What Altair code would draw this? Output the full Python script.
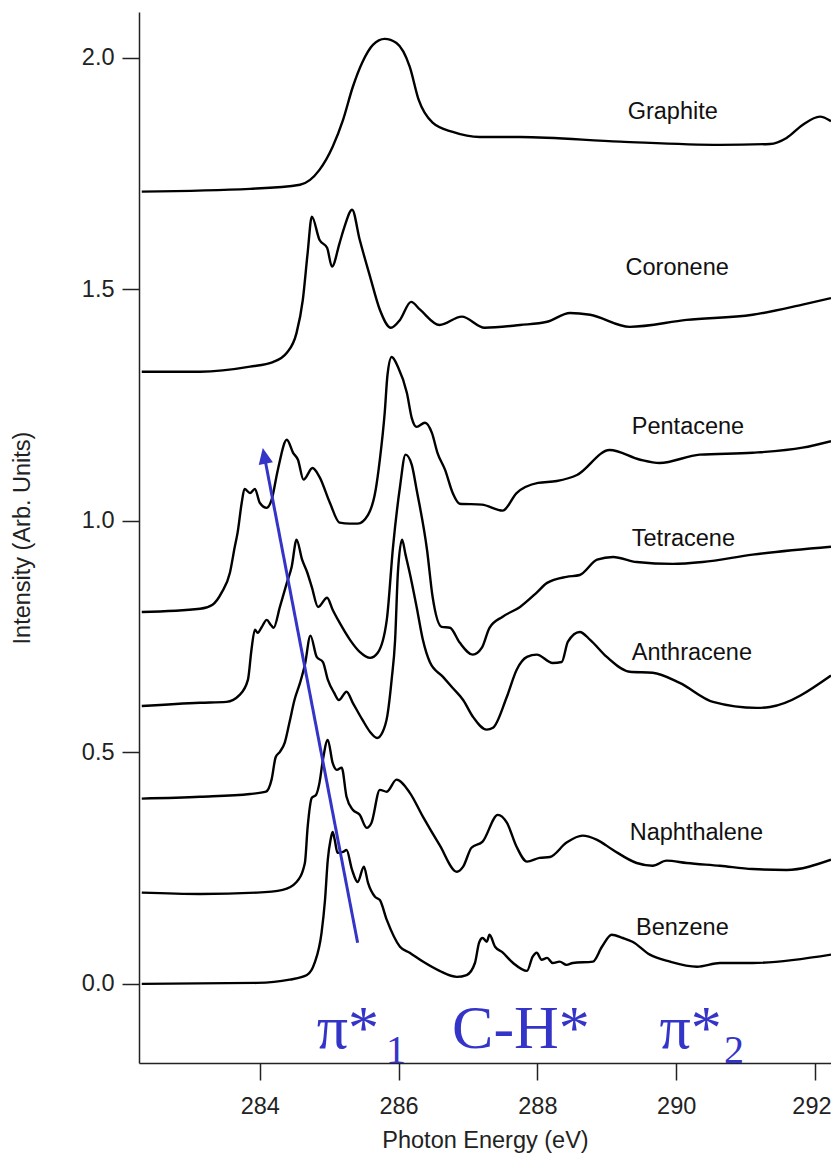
import altair as alt
import pandas as pd

# ---------------- data ----------------
graphite_x = [282.30, 283.86, 284.58, 284.86, 285.05, 285.20, 285.34, 285.48, 285.63, 285.80, 285.97, 286.16,
              286.29, 286.49, 286.78, 287.17, 287.75, 289.19, 290.63, 291.35, 291.59, 291.82, 292.07, 292.23]
graphite_y = [1.711, 1.717, 1.726, 1.758, 1.808, 1.866, 1.937, 1.991, 2.028, 2.041, 2.032, 1.981,
              1.909, 1.860, 1.840, 1.829, 1.829, 1.819, 1.812, 1.814, 1.827, 1.855, 1.873, 1.863]

coronene_x = [282.30, 283.14, 283.86, 284.19, 284.39, 284.53, 284.62, 284.69, 284.75, 284.86, 284.97, 285.04,
              285.15, 285.22, 285.33, 285.44, 285.59, 285.73, 285.89, 286.02, 286.18, 286.31, 286.59, 286.91,
              287.24, 287.75, 288.14, 288.47, 288.76, 289.33, 290.15, 291.10, 291.82, 292.23]
coronene_y = [1.322, 1.322, 1.333, 1.343, 1.363, 1.406, 1.477, 1.579, 1.657, 1.607, 1.590, 1.549,
              1.600, 1.635, 1.672, 1.607, 1.527, 1.456, 1.417, 1.434, 1.473, 1.456, 1.423, 1.441,
              1.417, 1.423, 1.430, 1.449, 1.445, 1.419, 1.434, 1.445, 1.467, 1.481]

pentacene_x = [282.30, 283.14, 283.32, 283.45, 283.57, 283.64, 283.68, 283.74, 283.78, 283.86, 283.93, 284.00,
               284.10, 284.17, 284.26, 284.39, 284.48, 284.55, 284.63, 284.76, 284.86, 285.01, 285.15, 285.30,
               285.41, 285.56, 285.67, 285.73, 285.80, 285.84, 285.90, 285.99, 286.12, 286.19, 286.26, 286.38,
               286.48, 286.56, 286.67, 286.78, 286.88, 287.20, 287.50, 287.70, 288.01, 288.28, 288.57, 289.04,
               289.48, 289.76, 290.34, 291.10, 291.82, 292.23]
pentacene_y = [0.803, 0.810, 0.819, 0.845, 0.888, 0.944, 0.974, 1.039, 1.069, 1.060, 1.069, 1.039,
               1.028, 1.045, 1.110, 1.175, 1.147, 1.132, 1.089, 1.114, 1.095, 1.039, 0.996, 0.994,
               0.994, 1.013, 1.067, 1.132, 1.233, 1.315, 1.354, 1.333, 1.276, 1.222, 1.203, 1.212,
               1.190, 1.147, 1.110, 1.060, 1.037, 1.035, 1.022, 1.060, 1.082, 1.086, 1.099, 1.153,
               1.132, 1.125, 1.143, 1.147, 1.158, 1.172]

tetracene_x = [282.30, 283.14, 283.52, 283.71, 283.83, 283.88, 283.93, 283.97, 284.03, 284.10, 284.16, 284.20,
               284.29, 284.39, 284.46, 284.53, 284.61, 284.68, 284.75, 284.84, 284.97, 285.05, 285.15, 285.30,
               285.44, 285.59, 285.70, 285.83, 285.92, 286.02, 286.10, 286.19, 286.26, 286.41, 286.49, 286.62,
               286.74, 286.88, 287.07, 287.20, 287.31, 287.50, 287.75, 287.99, 288.14, 288.42, 288.61, 288.86,
               289.09, 289.43, 289.95, 290.38, 291.10, 292.23]
tetracene_y = [0.600, 0.607, 0.609, 0.624, 0.657, 0.721, 0.765, 0.758, 0.771, 0.786, 0.775, 0.769,
               0.814, 0.866, 0.901, 0.959, 0.916, 0.890, 0.857, 0.814, 0.834, 0.808, 0.780, 0.743,
               0.717, 0.704, 0.715, 0.786, 0.944, 1.073, 1.143, 1.121, 1.067, 0.937, 0.836, 0.771,
               0.769, 0.737, 0.711, 0.726, 0.769, 0.793, 0.814, 0.845, 0.866, 0.879, 0.883, 0.916,
               0.922, 0.911, 0.907, 0.911, 0.927, 0.944]

anthracene_x = [282.30, 283.14, 283.86, 284.09, 284.17, 284.23, 284.29, 284.36, 284.43, 284.50, 284.58, 284.65,
                284.73, 284.82, 284.91, 284.98, 285.07, 285.14, 285.25, 285.34, 285.48, 285.59, 285.69, 285.77,
                285.84, 285.90, 285.95, 285.99, 286.05, 286.10, 286.16, 286.26, 286.35, 286.45, 286.64, 286.78,
                286.93, 287.07, 287.27, 287.36, 287.56, 287.70, 287.85, 287.99, 288.22, 288.35, 288.44, 288.61,
                288.76, 289.00, 289.33, 289.66, 290.05, 290.53, 291.16, 291.35, 292.23]
anthracene_y = [0.400, 0.404, 0.410, 0.415, 0.441, 0.490, 0.501, 0.521, 0.566, 0.613, 0.650, 0.689,
                0.752, 0.706, 0.695, 0.657, 0.629, 0.613, 0.631, 0.607, 0.570, 0.544, 0.531, 0.544,
                0.581, 0.657, 0.743, 0.888, 0.959, 0.927, 0.888, 0.814, 0.743, 0.695, 0.663, 0.639,
                0.613, 0.577, 0.549, 0.553, 0.620, 0.678, 0.706, 0.711, 0.693, 0.695, 0.739, 0.760,
                0.743, 0.706, 0.674, 0.672, 0.650, 0.609, 0.596, 0.598, 0.666]

naphthalene_x = [282.30, 283.14, 283.96, 284.33, 284.53, 284.65, 284.69, 284.75, 284.81, 284.86, 284.91, 284.98,
                 285.05, 285.11, 285.18, 285.25, 285.34, 285.44, 285.54, 285.61, 285.73, 285.83, 285.97, 286.16,
                 286.35, 286.59, 286.84, 286.93, 287.05, 287.21, 287.43, 287.56, 287.70, 287.85, 288.03, 288.18,
                 288.42, 288.65, 288.86, 289.09, 289.43, 289.66, 289.86, 290.15, 290.63, 291.10, 291.59, 292.23]
naphthalene_y = [0.197, 0.194, 0.197, 0.203, 0.220, 0.261, 0.339, 0.402, 0.408, 0.434, 0.484, 0.527,
                 0.477, 0.462, 0.467, 0.404, 0.376, 0.365, 0.337, 0.348, 0.419, 0.415, 0.441, 0.413,
                 0.361, 0.300, 0.242, 0.253, 0.294, 0.307, 0.365, 0.348, 0.296, 0.264, 0.272, 0.274,
                 0.305, 0.320, 0.311, 0.289, 0.261, 0.255, 0.266, 0.261, 0.255, 0.248, 0.246, 0.268]

benzene_x = [282.30, 283.96, 284.43, 284.68, 284.79, 284.89, 284.94, 284.98, 285.02, 285.05, 285.08, 285.12,
             285.20, 285.25, 285.33, 285.41, 285.50, 285.56, 285.66, 285.73, 285.83, 286.02, 286.16, 286.35,
             286.59, 286.84, 286.98, 287.10, 287.16, 287.21, 287.27, 287.31, 287.39, 287.49, 287.65, 287.85,
             287.93, 287.99, 288.06, 288.14, 288.22, 288.32, 288.42, 288.51, 288.80, 288.93, 289.07, 289.23,
             289.37, 289.62, 289.91, 290.30, 290.63, 291.10, 292.23]
benzene_y = [0.000, 0.002, 0.009, 0.019, 0.045, 0.110, 0.181, 0.268, 0.311, 0.328, 0.311, 0.283,
             0.285, 0.289, 0.246, 0.220, 0.253, 0.218, 0.188, 0.181, 0.138, 0.080, 0.067, 0.048,
             0.028, 0.015, 0.019, 0.045, 0.089, 0.099, 0.091, 0.106, 0.080, 0.069, 0.045, 0.028,
             0.058, 0.067, 0.052, 0.056, 0.045, 0.048, 0.041, 0.045, 0.048, 0.080, 0.106, 0.099,
             0.091, 0.063, 0.048, 0.037, 0.045, 0.045, 0.063]

series = {
    "Graphite": (graphite_x, graphite_y),
    "Coronene": (coronene_x, coronene_y),
    "Pentacene": (pentacene_x, pentacene_y),
    "Tetracene": (tetracene_x, tetracene_y),
    "Anthracene": (anthracene_x, anthracene_y),
    "Naphthalene": (naphthalene_x, naphthalene_y),
    "Benzene": (benzene_x, benzene_y),
}

label_names = ["Graphite", "Coronene", "Pentacene", "Tetracene", "Anthracene", "Naphthalene", "Benzene"]
label_x = [289.30, 289.27, 289.36, 289.36, 289.36, 289.33, 289.42]
label_y = [1.883, 1.546, 1.203, 0.961, 0.715, 0.326, 0.121]

x_ticks = [284, 286, 288, 290, 292]
y_ticks = [0.0, 0.5, 1.0, 1.5, 2.0]
x_domain = [282.26, 292.23]
y_domain = [-0.171, 2.099]

# blue annotations
big_text = ["π*", "C-H*", "π*"]
big_x = [284.82, 286.77, 289.76]
big_y = [-0.138, -0.138, -0.138]
sub_text = ["1", "2"]
sub_x = [285.82, 290.69]
sub_y = [-0.171, -0.171]

arrow_x = [285.41]
arrow_y = [0.0886]
arrow_x2 = [284.065]
arrow_y2 = [1.1406]
arrow_angle = [349.1]

BLUE = "#3434c8"

# ---------------- build tables ----------------
rows = []
for name, (xs, ys) in series.items():
    for i, (xv, yv) in enumerate(zip(xs, ys)):
        rows.append({"series": name, "x": xv, "y": yv, "i": i})
df = pd.DataFrame(rows)
labels_df = pd.DataFrame({"name": label_names, "x": label_x, "y": label_y})
big_df = pd.DataFrame({"t": big_text, "x": big_x, "y": big_y})
sub_df = pd.DataFrame({"t": sub_text, "x": sub_x, "y": sub_y})
arrow_df = pd.DataFrame({"x": arrow_x, "y": arrow_y, "x2": arrow_x2, "y2": arrow_y2, "a": arrow_angle})

FONT = "Liberation Sans"

xscale = alt.Scale(domain=x_domain, nice=False, zero=False)
yscale = alt.Scale(domain=y_domain, nice=False, zero=False)

xenc = alt.X("x:Q", scale=xscale, axis=alt.Axis(
    title="Photon Energy (eV)", values=x_ticks, format="d", grid=False,
    tickSize=17, tickWidth=1.5, tickColor="#222", domainColor="#222", domainWidth=1.5,
    labelFont=FONT, labelFontSize=23.5, labelColor="#222", labelPadding=14,
    labelFlush=20, labelFlushOffset=16,
    titleFont=FONT, titleFontSize=23.5, titleFontWeight="normal", titleColor="#222", titlePadding=11))
yenc = alt.Y("y:Q", scale=yscale, axis=alt.Axis(
    title="Intensity (Arb. Units)", values=y_ticks, format=".1f", grid=False,
    tickSize=17, tickWidth=1.5, tickColor="#222", domainColor="#222", domainWidth=1.5,
    labelFont=FONT, labelFontSize=23.5, labelColor="#222", labelPadding=8,
    titleFont=FONT, titleFontSize=23.5, titleFontWeight="normal", titleColor="#222", titlePadding=47))

lines = alt.Chart(df).mark_line(color="black", strokeWidth=2.4, interpolate="monotone").encode(
    x=xenc, y=yenc, detail="series:N", order="i:Q")

labels = alt.Chart(labels_df).mark_text(
    align="left", baseline="middle", font=FONT, fontSize=23.5, color="#111").encode(
    x="x:Q", y="y:Q", text="name:N")

big = alt.Chart(big_df).mark_text(
    align="left", baseline="alphabetic", font="Liberation Serif", fontSize=62, color=BLUE).encode(
    x="x:Q", y="y:Q", text="t:N")

sub = alt.Chart(sub_df).mark_text(
    align="left", baseline="alphabetic", font="Liberation Serif", fontSize=40, color=BLUE).encode(
    x="x:Q", y="y:Q", text="t:N")

arrow_line = alt.Chart(arrow_df).mark_rule(color=BLUE, strokeWidth=3).encode(
    x="x:Q", y="y:Q", x2="x2:Q", y2="y2:Q")

arrow_head = alt.Chart(arrow_df).mark_point(
    shape="M0,-1L0.9,1L-0.9,1Z", filled=True, color=BLUE, opacity=1, size=256, strokeWidth=0).encode(
    x="x2:Q", y="y2:Q", angle=alt.Angle("a:Q", scale=None))

chart = alt.layer(lines, labels, arrow_line, arrow_head, big, sub).properties(
    width=692, height=1051,
    autosize=alt.AutoSizeParams(type="none"),
    padding={"left": 131, "top": 4, "right": 0, "bottom": 90},
).configure_view(stroke=None).configure_axisX(domainCap="butt")

chart.save("out.html", embed_options={"renderer": "svg", "actions": False})
